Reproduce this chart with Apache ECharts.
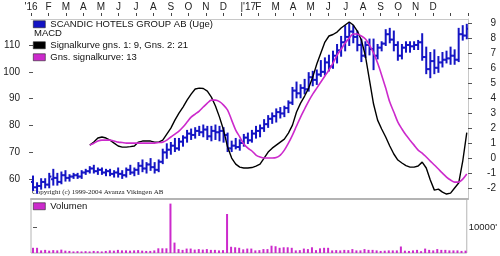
<!DOCTYPE html>
<html><head><meta charset="utf-8">
<script src="https://cdn.jsdelivr.net/npm/echarts@6/dist/echarts.min.js"></script>
<style>html,body{margin:0;padding:0;background:#fff}#c{width:500px;height:256px}</style>
</head><body><div id="c"></div>
<script>
var monthLabels = ["'16","F","M","A","M","J","J","A","S","O","N","D","'17","F","M","A","M","J","J","A","S","O","N","D"];
var priceTicks = [60,70,80,90,100,110];
var macdTicks = [-2,-1,0,1,2,3,4,5,6,7,8,9];
var volumeTicks = [10000];
var open  = [59,57,57.5,59,58,60,60.5,59,61.5,60.5,61,61.5,61,62.5,63,64,63,63.5,62.5,63,62,62.5,62,61.5,63.5,62.5,63.5,65,64,65.5,64.5,63.5,66.5,70,71,72.5,71.5,74,75.5,77,76.5,78,77.5,78.5,76,78,77.5,78,76.5,71.5,72.5,72,73.5,75.5,74.5,77,78,79,80.5,82.5,83.5,85,84.5,86.5,88.5,93,92,94,93.5,98,97,99,100,103.5,102,106,108,111,113,115,113,110,106,110,108.5,106,109,110.5,114,112,110,106,109,110,109.5,110,111,105.5,101,104,101.5,103.5,104.5,105,106,104.5,114,113.5];
var high  = [61,58.5,60,60,62,63.5,62,62.5,63,61.5,62,62,63,63.5,64.5,65,64,64,63.5,63.5,63,64,63,64,65,64,66,67,66,67.5,66,67,71,73,73.5,75,75,76,78,78.5,79,79.5,80,79.5,79.5,80,79.5,79,77,74,75,74.5,76.5,77,78,79.5,80,82,83.5,84.5,86,86.5,87,89,94,96,95,97,99.5,100,100.5,104,105,106,107.5,110,113,117,118,117,115,112,111,112,112,110,111,115.5,116,115,111,110,111,111,111,111.5,114,109,107,108,105.5,107,107.5,109,108,116,117,117.5];
var low   = [56,55,56.5,57,57,58,58,58.5,59.5,59.5,60.5,60.5,60.5,62,62.5,62.5,62,62,61.5,61.5,61,61,60.5,61,62,61.5,62,63,62.5,63.5,62.5,63,66,68,69.5,70.5,71,72.5,74,75,75.5,76.5,76,75,74.5,75,74.5,74,70.5,70.5,71.5,71,72.5,73.5,74,75.5,76,78,79.5,81,81.5,83,83.5,85,88,90.5,90.5,92,93,95,95.5,98.5,99,100.5,101.5,103.5,106,108,110,111,108,104,105.5,106.5,101,105,108,110,111,108,104.5,105,107.5,107.5,108.5,108.5,104.5,99.5,98,99.5,100,102,103.5,103,103,104,112,112.5];
var close = [57,57.5,59,58,61,60.5,59,61.5,60.5,61,61.5,61,62.5,63,64,63,63.5,62.5,63,62,62.5,62,61.5,63.5,62.5,63.5,65,64,65.5,64.5,63.5,66.5,70,71,72.5,71.5,74,75.5,77,76.5,78,77.5,78.5,76,78,77.5,78,76.5,71.5,72.5,72,73.5,75.5,74.5,77,78,79,80.5,82.5,83.5,85,84.5,86.5,88.5,93,92,94,93.5,98,97,99,100,103.5,102,106,108,111,113,115,113,110,106,110,108.5,106,109,110.5,114,112,110,106,109,110,109.5,110,111,105.5,101,104,101.5,103.5,104.5,105,106,104.5,114,113.5,116];
var macd = [null,null,null,null,null,null,null,null,null,null,null,null,null,null,
 0.87,1.07,1.34,1.41,1.34,1.2,1.0,0.81,0.74,0.74,0.77,0.81,1.07,1.14,1.14,1.14,1.07,1.07,1.2,1.6,2.0,2.53,3.0,3.4,3.86,4.26,4.6,4.66,4.63,4.46,4.06,3.47,2.73,1.87,0.74,0.01,-0.39,-0.59,-0.65,-0.65,-0.62,-0.52,-0.39,0.01,0.41,0.67,0.87,1.07,1.27,1.67,2.2,3.07,3.66,4.13,4.66,5.39,6.26,6.99,7.72,8.12,8.22,8.38,8.65,8.85,9.05,8.85,8.45,7.85,6.79,5.19,3.6,2.53,1.94,1.41,0.81,0.28,-0.12,-0.32,-0.49,-0.59,-0.59,-0.52,-0.26,-0.65,-1.45,-2.12,-2.05,-2.25,-2.38,-2.32,-1.98,-1.65,-0.2,1.7];
var signal = [null,null,null,null,null,null,null,null,null,null,null,null,null,null,
 0.87,1.0,1.14,1.2,1.2,1.2,1.14,1.07,1.04,1.0,1.0,1.0,1.0,1.0,1.0,1.0,1.0,1.04,1.07,1.2,1.41,1.6,1.8,2.07,2.4,2.73,2.93,3.13,3.4,3.66,3.86,3.86,3.76,3.53,3.2,2.53,1.87,1.41,0.94,0.67,0.48,0.21,0.08,0.01,0.01,0.01,0.04,0.21,0.54,1.0,1.54,2.14,2.73,3.27,3.8,4.26,4.66,5.06,5.46,5.86,6.32,6.85,7.25,7.65,7.98,8.25,8.25,8.12,7.92,7.52,6.99,6.32,5.52,4.66,3.73,3.07,2.4,1.94,1.54,1.2,0.87,0.54,0.34,0.08,-0.19,-0.45,-0.72,-0.99,-1.25,-1.45,-1.59,-1.59,-1.39,-1.05];
var volume = [2000,2000,1000,1200,900,1100,1000,1300,900,800,600,700,600,700,600,800,700,600,800,1000,900,1200,1000,1000,900,1000,1100,900,800,800,1000,1800,1800,1800,19000,4000,1500,1200,1700,1700,1300,1500,1300,1500,1200,1200,1000,1100,15000,2400,2200,2000,1400,1700,1700,1000,1100,1500,1500,2800,2600,2000,2200,2200,2000,1000,1100,1700,1500,2200,1100,1800,2000,2000,1000,1100,1000,1200,1100,1500,1000,1000,1500,1200,1200,1000,800,900,1000,1000,1000,2500,900,800,1000,1200,700,1700,1200,1000,1500,1200,1200,1000,1000,1000,800,900];

var FONT = "'Liberation Sans', Arial, sans-serif";
var BLUE = '#1414c4', MAG = '#cc2acc';
var ohlc = open.map(function(o,i){return [i,o,high[i],low[i],close[i]];});
var macdData = macd.map(function(v,i){return [i,v];});
var sigData = signal.map(function(v,i){return [i,v];});
var volData = volume.map(function(v,i){return [i,v];});
var XMIN = -0.5, XMAX = 107.3;
var legendText = {fontSize:9.5, color:'#111', fontFamily:FONT, lineHeight:11.5};
var legendItem = {borderColor:'#222', borderWidth:0.6};

var chart = echarts.init(document.getElementById('c'), null, {renderer:'canvas'});
chart.setOption({
  animation:false,
  textStyle:{fontFamily:FONT},
  grid:[
    {left:31, right:32, top:19, height:180},
    {left:31, right:32, top:199, height:54, show:true, borderColor:'#b4b4b4', borderWidth:1}
  ],
  legend:[
    {left:33, top:18.5, padding:0, orient:'vertical', icon:'rect', itemWidth:12, itemHeight:7, data:['SCANDIC HOTELS GROUP AB (Uge)'],
     textStyle:legendText, itemStyle:legendItem},
    {left:33, top:39.5, padding:0, orient:'vertical', icon:'rect', itemWidth:12, itemHeight:7, itemGap:0.5, data:['Signalkurve gns. 1: 9, Gns. 2: 21','Gns. signalkurve: 13'],
     textStyle:legendText, itemStyle:legendItem},
    {left:33, top:200.5, padding:0, icon:'rect', itemWidth:12, itemHeight:7, data:['Volumen'],
     textStyle:legendText, itemStyle:legendItem}
  ],
  graphic:[
    {type:'text', left:34, top:28.5, style:{text:'MACD', fontSize:9.5, fontFamily:FONT, fill:'#111'}},
    {type:'text', left:32, top:189, style:{text:'Copyright (c) 1999-2004 Avanza Vikingen AB', fontSize:7, fontFamily:"'Liberation Serif', serif", fill:'#222'}}
  ],
  xAxis:[
    {gridIndex:0, type:'value', min:XMIN, max:XMAX, position:'bottom',
     axisLine:{show:true, onZero:false, lineStyle:{color:'#b4b4b4', width:2}}, axisTick:{show:false}, axisLabel:{show:false}, splitLine:{show:false}},
    {gridIndex:0, type:'value', min:0, max:25, interval:1, position:'top', offset:3,
     axisLine:{show:false, onZero:false}, axisTick:{show:true, length:3, lineStyle:{color:'#444'}}, splitLine:{show:false},
     axisLabel:{fontSize:10, color:'#222', margin:4, fontFamily:FONT,
       formatter:function(v){ var s = monthLabels[v]; if (s===undefined) return ''; if (v===12) return '{p|}|'+s; return s; },
       rich:{p:{width:15}}}},
    {gridIndex:0, type:'value', min:XMIN, max:XMAX, position:'top',
     axisLine:{show:true, onZero:false, lineStyle:{color:'#c8c8c8', width:1}}, axisTick:{show:false}, axisLabel:{show:false}, splitLine:{show:false}},
    {gridIndex:1, type:'value', min:XMIN, max:XMAX, show:false, axisLine:{onZero:false}}
  ],
  yAxis:[
    {gridIndex:0, type:'value', min:52.64, max:119.67, position:'left',
     axisLine:{show:false}, splitLine:{show:false},
     axisTick:{show:true, length:4, customValues:priceTicks, lineStyle:{color:'#555'}},
     axisLabel:{customValues:priceTicks, fontSize:10, color:'#222', margin:11, fontFamily:FONT}},
    {gridIndex:0, type:'value', min:-2.71, max:9.25, position:'right',
     axisLine:{show:true, onZero:false, lineStyle:{color:'#c8c8c8'}}, splitLine:{show:false},
     axisTick:{show:true, length:4, customValues:macdTicks, lineStyle:{color:'#555'}},
     axisLabel:{customValues:macdTicks, fontSize:10, color:'#222', margin:28, align:'right', fontFamily:FONT}},
    {gridIndex:1, type:'value', min:0, max:20770, position:'right',
     axisLine:{show:false}, splitLine:{show:false},
     axisTick:{show:true, length:4, customValues:volumeTicks, lineStyle:{color:'#555'}},
     axisLabel:{customValues:volumeTicks, fontSize:9.5, color:'#222', margin:2, fontFamily:FONT,
       formatter:function(v){return v+"'";}}}
  ],
  series:[
    {name:'SCANDIC HOTELS GROUP AB (Uge)', type:'custom', xAxisIndex:0, yAxisIndex:0, data:ohlc,
     itemStyle:{color:BLUE}, encode:{x:0, y:[1,2,3,4]}, clip:true,
     renderItem:function(params, api){
       var x = api.value(0);
       var po = api.coord([x, api.value(1)]);
       var ph = api.coord([x, api.value(2)]);
       var pl = api.coord([x, api.value(3)]);
       var pc = api.coord([x, api.value(4)]);
       var st = {stroke:BLUE, lineWidth:2};
       return {type:'group', children:[
         {type:'line', shape:{x1:ph[0], y1:ph[1]-1, x2:pl[0], y2:pl[1]+1}, style:st},
         {type:'line', shape:{x1:po[0]-2.2, y1:po[1], x2:po[0], y2:po[1]}, style:st},
         {type:'line', shape:{x1:pc[0], y1:pc[1], x2:pc[0]+2.2, y2:pc[1]}, style:st}
       ]};
     }},
    {name:'Signalkurve gns. 1: 9, Gns. 2: 21', type:'line', xAxisIndex:0, yAxisIndex:1, data:macdData,
     showSymbol:false, symbol:'none', lineStyle:{color:'#000', width:1.4}, itemStyle:{color:'#000'}, connectNulls:false},
    {name:'Gns. signalkurve: 13', type:'line', xAxisIndex:0, yAxisIndex:1, data:sigData,
     showSymbol:false, symbol:'none', lineStyle:{color:MAG, width:1.6}, itemStyle:{color:MAG}, smooth:0.3},
    {name:'Volumen', type:'bar', xAxisIndex:3, yAxisIndex:2, data:volData, barWidth:2,
     itemStyle:{color:MAG}}
  ]
});
</script>
</body></html>
